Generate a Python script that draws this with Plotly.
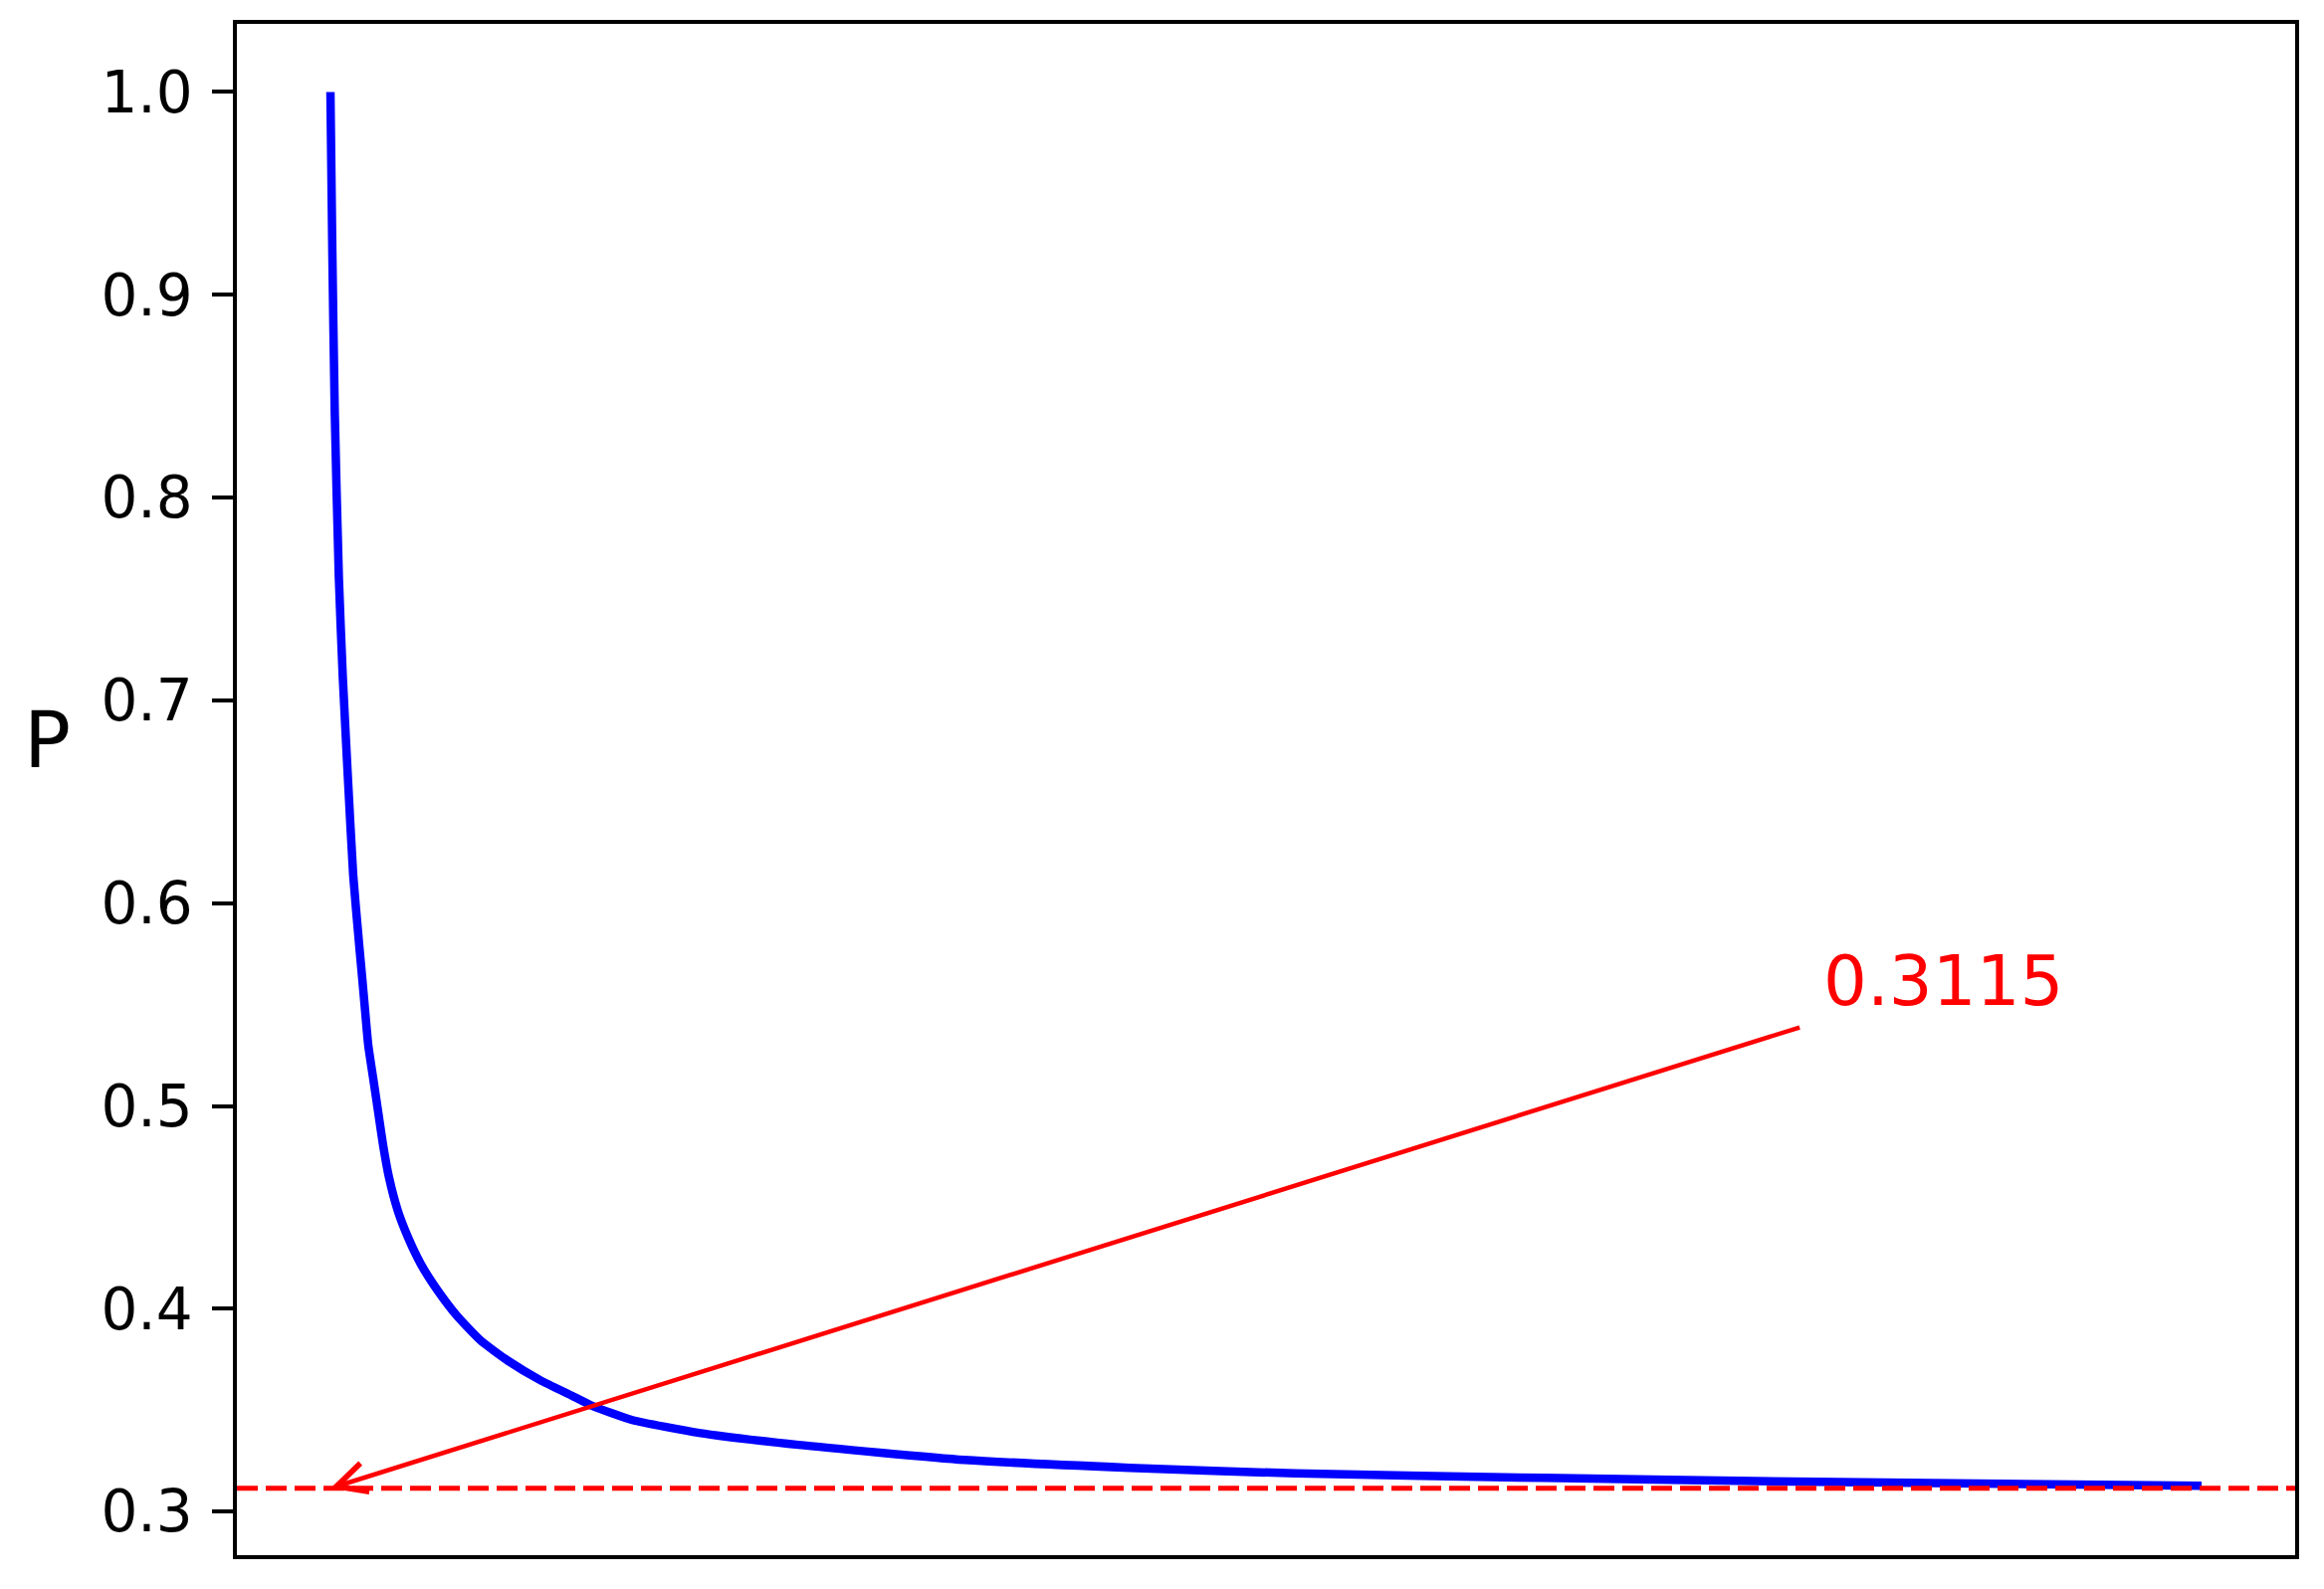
import plotly.graph_objects as go

# values (x axis has no ticks, so steps are in arbitrary units 0..100)
steps = [0.0, 0.10, 0.23, 0.45, 0.66, 0.93, 1.22, 1.54, 1.70, 1.86, 2.02, 2.28,
         2.55, 2.81, 3.13, 3.61, 4.14, 4.83, 5.74, 6.80, 8.02, 9.45, 11.21,
         12.96, 14.02, 16.14, 19.70, 25.01, 33.88, 42.70, 51.57, 64.84, 78.12,
         100.0]
probs = [1.000, 0.9225, 0.8425, 0.7606, 0.7116, 0.6625, 0.6134, 0.5791, 0.5629,
         0.5462, 0.5301, 0.5139, 0.4972, 0.4810, 0.4648, 0.4481, 0.4354, 0.4221,
         0.4089, 0.3961, 0.3844, 0.3746, 0.3648, 0.3569, 0.3520, 0.3451, 0.3388,
         0.3329, 0.3255, 0.3216, 0.3188, 0.3166, 0.3148, 0.3127]
limit_value = 0.3115
y_ticks = [0.3, 0.4, 0.5, 0.6, 0.7, 0.8, 0.9, 1.0]

fig = go.Figure()

fig.add_trace(go.Scatter(
    x=steps, y=probs, mode="lines",
    line=dict(color="#0000ff", width=8.5, shape="spline", smoothing=0.5),
    showlegend=False, hoverinfo="skip"))

# dashed limit line across the whole axes
fig.add_hline(y=limit_value, line=dict(color="#ff0000", width=5, dash="21px,8px"))

# arrow from the label to the start of the curve at the limit value
fig.add_annotation(
    x=steps[0], y=limit_value, ax=78.6, ay=0.539, xref="x", yref="y",
    axref="x", ayref="y", text="", showarrow=True,
    arrowhead=5, arrowsize=1.3, arrowwidth=4.5, arrowcolor="#ff0000", standoff=0)

fig.add_annotation(
    x=79.7, y=0.5615, xref="x", yref="y", text=f"{limit_value:.4f}",
    showarrow=False, xanchor="left", yanchor="middle",
    font=dict(family="DejaVu Sans", size=69, color="#ff0000"))

# unrotated y label
fig.add_annotation(
    x=-0.092, y=0.532, xref="paper", yref="paper", text="P", showarrow=False,
    xanchor="center", yanchor="middle",
    font=dict(family="DejaVu Sans", size=78, color="#000000"))

fig.update_xaxes(
    range=[-5, 105], showticklabels=False, ticks="", showgrid=False, zeroline=False,
    showline=True, mirror=True, linecolor="#000000", linewidth=3.5)
fig.update_yaxes(
    range=[0.2785, 1.0336], tickvals=y_ticks, ticktext=[f"{v:.1f}" for v in y_ticks],
    ticks="outside", ticklen=21, tickwidth=3.5, tickcolor="#000000",
    tickfont=dict(family="DejaVu Sans", size=58, color="#000000"),
    ticklabelstandoff=8,
    showgrid=False, zeroline=False,
    showline=True, mirror=True, linecolor="#000000", linewidth=3.5)

# page body adds a small margin, so the figure is a bit smaller than the window
fig.update_layout(
    width=2319, height=1581,
    margin=dict(l=230, r=21, t=16, b=26),
    paper_bgcolor="#ffffff", plot_bgcolor="#ffffff",
    font=dict(family="DejaVu Sans"))

fig.write_html("out.html")
